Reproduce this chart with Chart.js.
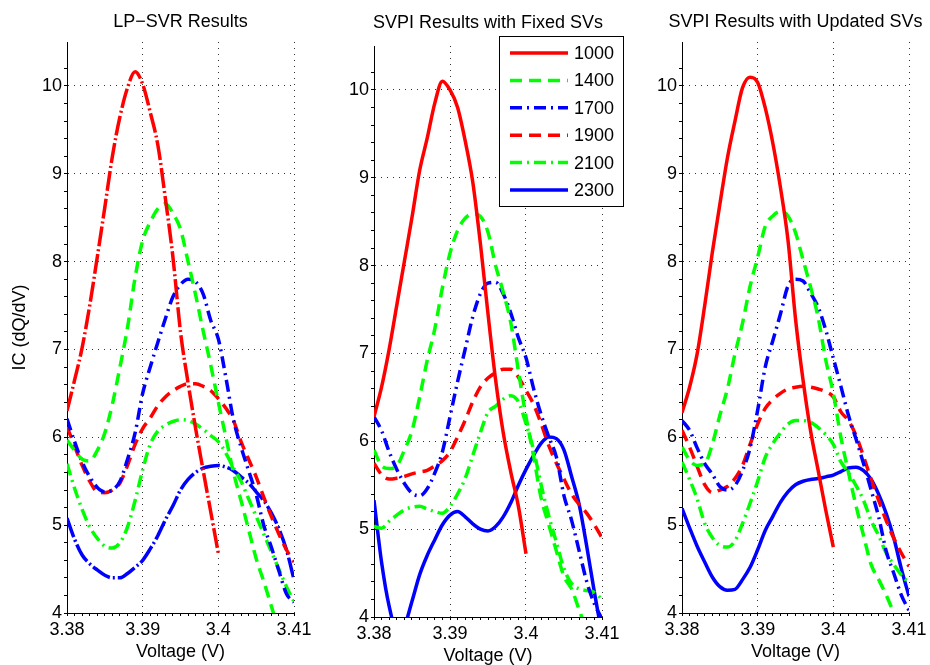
<!DOCTYPE html>
<html>
<head>
<meta charset="utf-8">
<script src="https://cdn.jsdelivr.net/npm/chart.js@4.4.1/dist/chart.umd.min.js"></script>
<style>
  html, body { margin: 0; padding: 0; background: #fff; overflow: hidden; }
  #wrap { position: relative; width: 930px; height: 665px; overflow: hidden; }
  canvas { position: absolute; }
</style>
</head>
<body>
<div id="wrap">
  <canvas id="lpChart" width="320" height="665" style="left:0px;top:0px"></canvas>
  <canvas id="fixedChart" width="320" height="665" style="left:310px;top:4px"></canvas>
  <canvas id="updatedChart" width="300" height="665" style="left:630px;top:0px"></canvas>
</div>
<script>
// x values (V)
const voltage = [3.380, 3.381, 3.382, 3.383, 3.384, 3.385, 3.386, 3.387, 3.388, 3.389,
                 3.390, 3.391, 3.392, 3.393, 3.394, 3.395, 3.396, 3.397, 3.398, 3.399,
                 3.400, 3.401, 3.402, 3.403, 3.404, 3.405, 3.406, 3.407, 3.408, 3.409, 3.410];
const cycles = ['1000', '1400', '1700', '1900', '2100', '2300'];

// LP-SVR results
const lpSvr1000 = [6.30, 6.65, 7.02, 7.50, 8.05, 8.62, 9.20, 9.65, 9.98, 10.16, 10.02, 9.70, 9.33, 8.72, 8.05, 7.20, 6.62, 6.10, 5.62, 5.15, 4.68];
const lpSvr1400 = [5.97, 5.85, 5.75, 5.73, 5.85, 6.05, 6.38, 6.80, 7.25, 7.82, 8.24, 8.45, 8.60, 8.66, 8.55, 8.37, 8.00, 7.62, 7.21, 6.82, 6.40, 6.00, 5.60, 5.28, 4.95, 4.62, 4.36, 4.08, 3.80, 3.55, 3.30];
const lpSvr1700 = [6.21, 5.95, 5.72, 5.55, 5.43, 5.38, 5.40, 5.50, 5.75, 6.05, 6.50, 6.80, 7.08, 7.35, 7.60, 7.74, 7.80, 7.77, 7.63, 7.33, 7.12, 6.68, 6.20, 5.89, 5.62, 5.35, 5.00, 4.75, 4.48, 4.22, 4.12];
const lpSvr1900 = [6.12, 5.90, 5.68, 5.50, 5.38, 5.37, 5.40, 5.48, 5.68, 5.92, 6.10, 6.22, 6.36, 6.46, 6.53, 6.58, 6.61, 6.61, 6.58, 6.53, 6.44, 6.33, 6.19, 5.95, 5.75, 5.55, 5.32, 5.10, 4.90, 4.72, 4.58];
const lpSvr2100 = [5.70, 5.42, 5.18, 4.98, 4.85, 4.76, 4.74, 4.80, 4.98, 5.28, 5.63, 5.92, 6.07, 6.14, 6.18, 6.20, 6.19, 6.15, 6.09, 6.02, 5.95, 5.82, 5.65, 5.50, 5.30, 5.10, 4.90, 4.70, 4.50, 4.30, 4.13];
const lpSvr2300 = [5.08, 4.84, 4.66, 4.56, 4.49, 4.43, 4.40, 4.40, 4.45, 4.52, 4.60, 4.73, 4.88, 5.06, 5.22, 5.40, 5.52, 5.60, 5.65, 5.67, 5.68, 5.66, 5.62, 5.55, 5.48, 5.38, 5.28, 5.14, 4.96, 4.72, 4.38];

// SVPI with fixed SVs
const fixedSv1000 = [6.28, 6.62, 7.05, 7.55, 8.05, 8.55, 9.08, 9.45, 9.85, 10.10, 10.00, 9.80, 9.42, 8.95, 8.25, 7.45, 6.70, 6.10, 5.65, 5.26, 4.72];
const fixedSv1400 = [5.90, 5.72, 5.69, 5.72, 5.90, 6.12, 6.50, 6.92, 7.28, 7.75, 8.14, 8.40, 8.54, 8.59, 8.56, 8.38, 8.00, 7.70, 7.35, 6.80, 6.28, 5.83, 5.35, 5.05, 4.75, 4.46, 4.32, 4.08, 3.85, 3.70, 3.55];
const fixedSv1700 = [6.28, 6.12, 5.88, 5.68, 5.52, 5.41, 5.38, 5.46, 5.64, 5.88, 6.28, 6.68, 7.05, 7.42, 7.68, 7.80, 7.81, 7.68, 7.46, 7.18, 6.95, 6.60, 6.30, 6.05, 5.82, 5.38, 5.10, 4.75, 4.40, 4.15, 3.98];
const fixedSv1900 = [5.75, 5.62, 5.57, 5.58, 5.60, 5.63, 5.65, 5.67, 5.72, 5.78, 5.88, 6.05, 6.24, 6.45, 6.62, 6.72, 6.78, 6.82, 6.82, 6.73, 6.58, 6.42, 6.20, 5.95, 5.75, 5.57, 5.40, 5.28, 5.18, 5.05, 4.90];
const fixedSv2100 = [5.03, 5.01, 5.09, 5.16, 5.22, 5.25, 5.26, 5.23, 5.20, 5.18, 5.26, 5.40, 5.58, 5.84, 6.10, 6.33, 6.40, 6.48, 6.52, 6.45, 6.20, 5.90, 5.50, 5.15, 4.85, 4.55, 4.38, 4.32, 4.30, 4.28, 4.20];
const fixedSv2300 = [5.33, 4.62, 4.12, 3.85, 3.90, 4.18, 4.48, 4.70, 4.88, 5.05, 5.16, 5.20, 5.14, 5.06, 5.00, 4.98, 5.03, 5.14, 5.30, 5.50, 5.68, 5.84, 5.98, 6.05, 6.03, 5.90, 5.60, 5.28, 4.80, 4.28, 3.80];

// SVPI with updated SVs
const updatedSv1000 = [6.28, 6.57, 6.95, 7.50, 8.10, 8.65, 9.18, 9.60, 9.98, 10.10, 10.04, 9.75, 9.35, 8.85, 8.25, 7.35, 6.65, 6.07, 5.62, 5.17, 4.75];
const updatedSv1400 = [5.89, 5.74, 5.68, 5.70, 5.92, 6.25, 6.55, 6.95, 7.30, 7.72, 8.05, 8.40, 8.52, 8.57, 8.52, 8.33, 8.02, 7.71, 7.36, 6.88, 6.50, 6.00, 5.60, 5.22, 4.88, 4.55, 4.38, 4.20, 4.00, 3.80, 3.60];
const updatedSv1700 = [6.19, 6.08, 5.88, 5.70, 5.58, 5.44, 5.40, 5.45, 5.62, 5.88, 6.31, 6.80, 7.10, 7.40, 7.72, 7.80, 7.78, 7.64, 7.48, 7.22, 6.90, 6.58, 6.25, 5.98, 5.70, 5.40, 5.09, 4.70, 4.45, 4.20, 4.03];
const updatedSv1900 = [6.08, 5.89, 5.67, 5.46, 5.37, 5.40, 5.44, 5.53, 5.68, 5.92, 6.15, 6.33, 6.43, 6.50, 6.55, 6.57, 6.58, 6.57, 6.55, 6.52, 6.46, 6.29, 6.19, 6.02, 5.78, 5.52, 5.28, 5.05, 4.85, 4.68, 4.53];
const updatedSv2100 = [5.72, 5.52, 5.30, 5.02, 4.86, 4.77, 4.75, 4.82, 5.02, 5.25, 5.50, 5.77, 5.93, 6.05, 6.15, 6.19, 6.19, 6.17, 6.11, 6.03, 5.92, 5.72, 5.60, 5.45, 5.28, 5.05, 4.88, 4.68, 4.55, 4.43, 4.34];
const updatedSv2300 = [5.19, 4.97, 4.76, 4.58, 4.41, 4.30, 4.26, 4.27, 4.38, 4.52, 4.72, 4.94, 5.10, 5.26, 5.38, 5.46, 5.50, 5.52, 5.53, 5.55, 5.57, 5.61, 5.65, 5.66, 5.62, 5.52, 5.35, 5.13, 4.85, 4.50, 4.19];

const yTicks = [4, 5, 6, 7, 8, 9, 10];

const FONT = "'Liberation Sans', Arial, Helvetica, sans-serif";
const lineColors = ['#ff0000', '#00ff00', '#0000ff', '#ff0000', '#00ff00', '#0000ff'];
const DASHED = [12, 7];
const DASHDOT = [12, 5, 2, 5];
const normalDashes = [[], DASHED, DASHDOT, DASHED, DASHDOT, []];
const lpDashes = [[20, 3, 2, 3], DASHED, DASHDOT, DASHED, DASHDOT, [20, 3, 2, 3]];

function isMajorX(v) { return Math.abs(v * 100 - Math.round(v * 100)) < 1e-6; }
function isMajorY(v) { return yTicks.some(t => Math.abs(t - v) < 1e-6); }

const panelTitle = {
    id: 'panelTitle',
    afterDraw(chart, args, opts) {
        const a = chart.chartArea;
        const c = chart.ctx;
        c.save();
        c.fillStyle = '#000';
        c.font = '18px ' + FONT;
        c.textAlign = 'center';
        c.textBaseline = 'alphabetic';
        c.fillText(opts.text, (a.left + a.right) / 2, opts.y);
        c.restore();
    }
};

const cycleLegend = {
    id: 'cycleLegend',
    afterDraw(chart, args, opts) {
        if (!opts.show) return;
        const c = chart.ctx;
        c.save();
        c.fillStyle = '#fff';
        c.fillRect(opts.x, opts.y, opts.w, opts.h);
        c.strokeStyle = '#000';
        c.lineWidth = 1;
        c.strokeRect(opts.x + 0.5, opts.y + 0.5, opts.w, opts.h);
        chart.data.datasets.forEach((ds, i) => {
            const yy = opts.y + opts.first + i * opts.step;
            c.strokeStyle = ds.borderColor;
            c.lineWidth = 3.5;
            c.setLineDash(ds.borderDash || []);
            c.beginPath();
            c.moveTo(opts.x + 11, yy);
            c.lineTo(opts.x + 69, yy);
            c.stroke();
            c.setLineDash([]);
            c.fillStyle = '#000';
            c.font = '18px ' + FONT;
            c.textAlign = 'left';
            c.textBaseline = 'middle';
            c.fillText(ds.label, opts.x + 75, yy + 1);
        });
        c.restore();
    }
};

function makePanel(id, series, cfg) {
    const ctx = document.getElementById(id).getContext('2d');
    return new Chart(ctx, {
        type: 'line',
        data: {
            datasets: cycles.map((c, i) => ({
                label: c,
                data: voltage.map((v, j) => ({ x: v, y: series[i][j] })).filter(p => p.y !== undefined && p.y !== null),
                borderColor: lineColors[i],
                borderDash: cfg.dashes[i],
                borderWidth: 3.5,
                pointRadius: 0,
                fill: false,
                cubicInterpolationMode: 'monotone'
            }))
        },
        options: {
            responsive: false,
            animation: false,
            devicePixelRatio: 1,
            layout: { padding: { top: 42, right: cfg.padRight, left: 0, bottom: 0 } },
            plugins: {
                legend: { display: false },
                tooltip: { enabled: false },
                panelTitle: { text: cfg.title, y: cfg.titleY },
                cycleLegend: cfg.legend || { show: false }
            },
            scales: {
                x: {
                    type: 'linear',
                    min: 3.38,
                    max: 3.41,
                    afterFit: s => { s.height = 52; },
                    border: { display: true, color: '#000', width: 1, dash: [1, 5] },
                    grid: {
                        color: c => isMajorX(c.tick.value) ? '#333' : 'rgba(0,0,0,0)',
                        lineWidth: 1,
                        tickColor: '#000',
                        tickLength: 3,
                        tickBorderDash: []
                    },
                    ticks: {
                        stepSize: 0.001,
                        autoSkip: false,
                        maxRotation: 0,
                        padding: 3,
                        color: '#000',
                        font: { family: FONT, size: 18 },
                        callback: v => isMajorX(v) ? String(parseFloat(v.toFixed(2))) : ''
                    },
                    title: {
                        display: true,
                        text: 'Voltage (V)',
                        color: '#000',
                        font: { family: FONT, size: 18 },
                        padding: { top: 0, bottom: 2 }
                    }
                },
                y: {
                    min: 4,
                    max: 10.5,
                    afterFit: s => { s.width = cfg.yWidth; },
                    border: { display: true, color: '#000', width: 1, dash: [1, 5] },
                    grid: {
                        color: c => isMajorY(c.tick.value) ? '#333' : 'rgba(0,0,0,0)',
                        lineWidth: 1,
                        tickColor: c => c.tick.value > 10.45 ? 'rgba(0,0,0,0)' : '#000',
                        tickLength: 3,
                        tickBorderDash: []
                    },
                    ticks: {
                        stepSize: 0.2,
                        autoSkip: false,
                        padding: 2,
                        color: '#000',
                        font: { family: FONT, size: 18 },
                        callback: v => isMajorY(v) ? String(Math.round(v)) : ''
                    },
                    title: {
                        display: !!cfg.yTitle,
                        text: cfg.yTitle || '',
                        color: '#000',
                        font: { family: FONT, size: 18 },
                        padding: { top: 9, bottom: 0 }
                    }
                }
            }
        },
        plugins: [panelTitle, cycleLegend]
    });
}

makePanel('lpChart',
    [lpSvr1000, lpSvr1400, lpSvr1700, lpSvr1900, lpSvr2100, lpSvr2300],
    { title: 'LP\u2212SVR Results', titleY: 27, yWidth: 67, padRight: 26, dashes: lpDashes, yTitle: 'IC (dQ/dV)' });

makePanel('fixedChart',
    [fixedSv1000, fixedSv1400, fixedSv1700, fixedSv1900, fixedSv2100, fixedSv2300],
    { title: 'SVPI Results with Fixed SVs', titleY: 24, yWidth: 64, padRight: 28, dashes: normalDashes,
      legend: { show: true, x: 189, y: 32, w: 124, h: 170, first: 17, step: 27.4 } });

makePanel('updatedChart',
    [updatedSv1000, updatedSv1400, updatedSv1700, updatedSv1900, updatedSv2100, updatedSv2300],
    { title: 'SVPI Results with Updated SVs', titleY: 27, yWidth: 52, padRight: 21, dashes: normalDashes });
</script>
</body>
</html>
